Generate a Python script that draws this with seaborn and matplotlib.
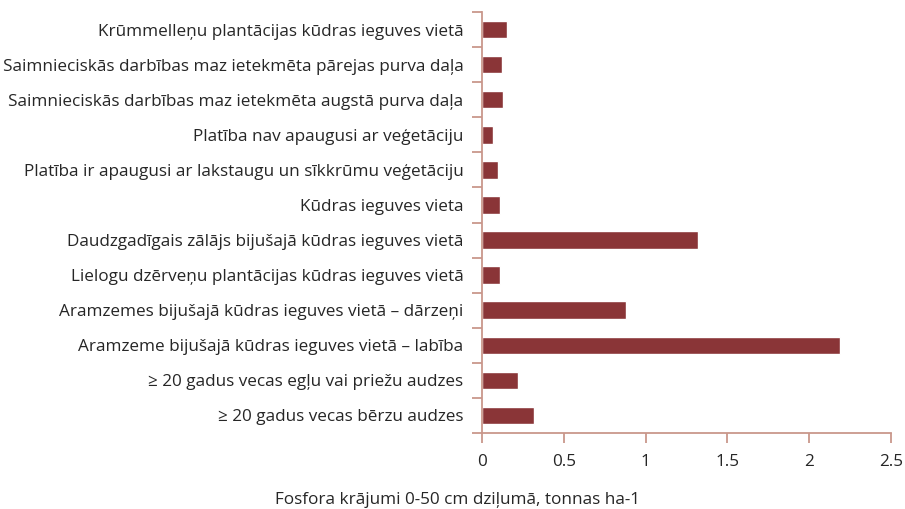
import numpy as np
import pandas as pd
import seaborn as sns
from matplotlib import pyplot as plt

categories = [
    "Krūmmelleņu plantācijas kūdras ieguves vietā",
    "Saimnieciskās darbības maz ietekmēta pārejas purva daļa",
    "Saimnieciskās darbības maz ietekmēta augstā purva daļa",
    "Platība nav apaugusi ar veģetāciju",
    "Platība ir apaugusi ar lakstaugu un sīkkrūmu veģetāciju",
    "Kūdras ieguves vieta",
    "Daudzgadīgais zālājs bijušajā kūdras ieguves vietā",
    "Lielogu dzērveņu plantācijas kūdras ieguves vietā",
    "Aramzemes bijušajā kūdras ieguves vietā – dārzeņi",
    "Aramzeme bijušajā kūdras ieguves vietā – labība",
    "≥ 20 gadus vecas egļu vai priežu audzes",
    "≥ 20 gadus vecas bērzu audzes",
]
values = [0.15, 0.12, 0.13, 0.07, 0.10, 0.11, 1.32, 0.11, 0.88, 2.19, 0.22, 0.32]
xticks = [0, 0.5, 1, 1.5, 2, 2.5]

sns.set_style("white")
plt.rcParams["font.family"] = ["Open Sans", "DejaVu Sans"]

df = pd.DataFrame({"cat": categories, "val": values})
axis_col = "#c9978b"
bar_col = "#8a3537"
fs = 12.3

fig = plt.figure(figsize=(9.05, 5.09), dpi=100)
ax = fig.add_axes([0.5326, 0.1493, 0.4519, 0.8271])
sns.barplot(data=df, y="cat", x="val", orient="h", color=bar_col,
            width=0.5, saturation=1, ax=ax)

ax.set_xlim(0, 2.5)
ax.set_ylim(len(categories) - 0.5, -0.5)
ax.set_xticks(xticks)
ax.set_xticklabels([str(t) for t in xticks], fontsize=fs)
# category labels without marks, marks between categories
ax.tick_params(axis="y", which="major", left=False, labelsize=fs, pad=10)
ax.set_yticks(np.arange(len(categories) + 1) - 0.5, minor=True)
ax.tick_params(axis="y", which="minor", left=True, length=7, width=1.3, color=axis_col)
ax.tick_params(axis="x", bottom=True, length=7, width=1.3, color=axis_col, pad=8)

for s in ["top", "right"]:
    ax.spines[s].set_visible(False)
for s in ["left", "bottom"]:
    ax.spines[s].set_color(axis_col)
    ax.spines[s].set_linewidth(1.3)

ax.set_ylabel("")
ax.set_xlabel("Fosfora krājumi 0-50 cm dziļumā, tonnas ha-1", fontsize=fs)
ax.xaxis.set_label_coords(-0.061, -0.159)
ax.xaxis.label.set_verticalalignment("center")

fig.savefig("out.png", dpi=100)
